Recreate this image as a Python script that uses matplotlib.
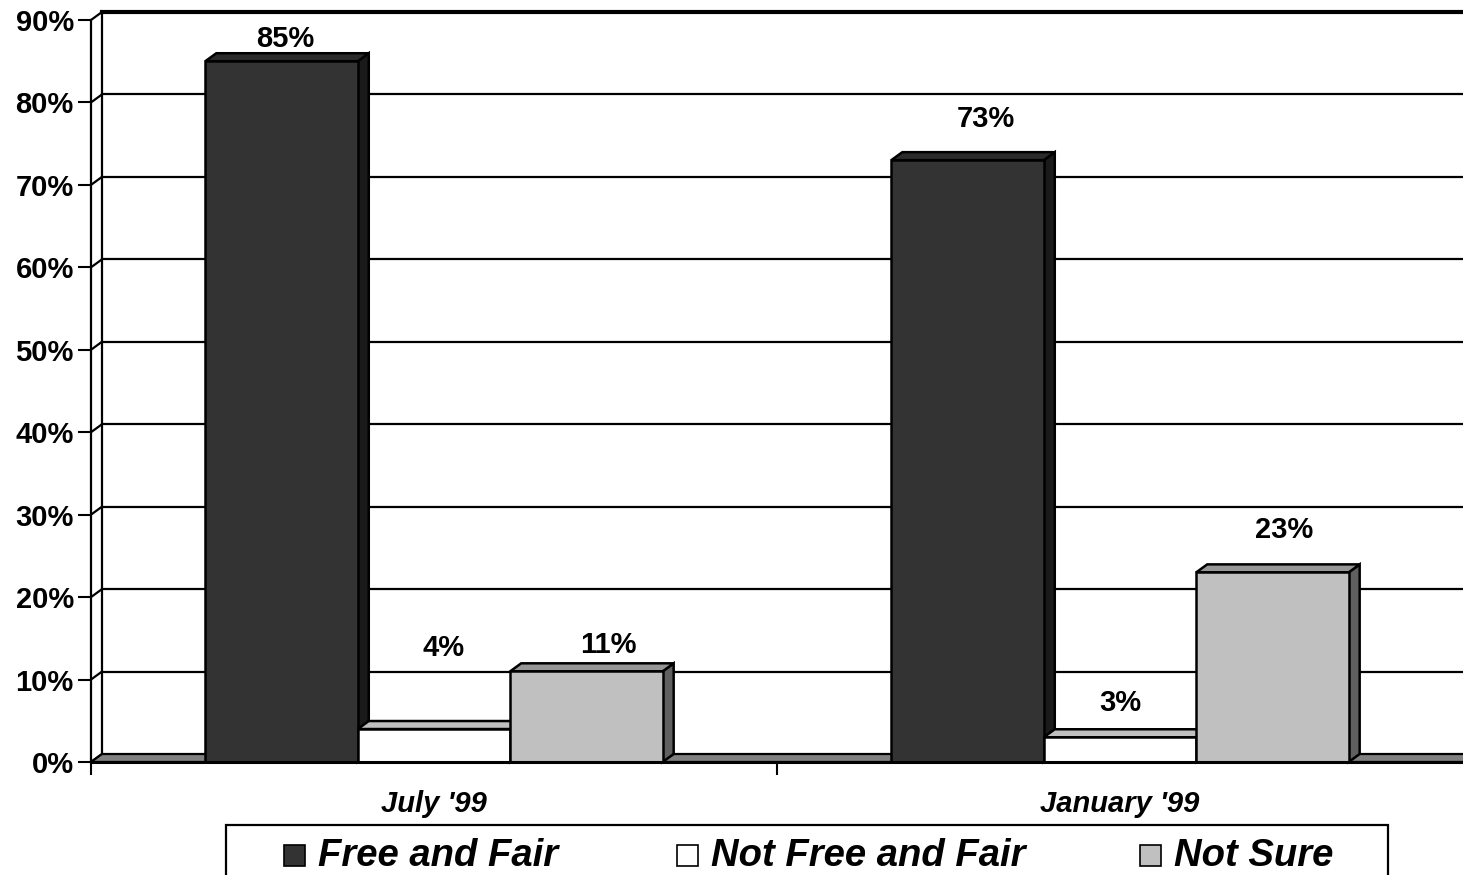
import numpy as np
import matplotlib.pyplot as plt
from matplotlib.patches import Polygon, Rectangle

categories = ["July '99", "January '99"]
series = ['Free and Fair', 'Not Free and Fair', 'Not Sure']
free_fair = [85, 73]
not_free_fair = [4, 3]
not_sure = [11, 23]
values = [free_fair, not_free_fair, not_sure]

# label offsets from bar top centre, in pixels (Excel put them all over the place)
label_offsets = [[(4, 22), (18, 41)], [(10, 81), (0, 34)], [(22, 26), (12, 42)]]

front_colors = ['#333333', '#ffffff', '#c0c0c0']
top_colors = ['#2b2b2b', '#c0c0c0', '#969696']
side_colors = ['#1a1a1a', '#808080', '#606060']

W, H = 1463, 875
plt.rcParams['font.family'] = ['Liberation Sans', 'DejaVu Sans']
plt.rcParams['font.weight'] = 'bold'

fig = plt.figure(figsize=(W / 100, H / 100), dpi=100)
x0, x1, y0, y1 = 91, 1463, 762, 20
ax = fig.add_axes([x0 / W, (H - y0) / H, (x1 - x0) / W, (y0 - y1) / H])
ax.set_xlim(0, 2)
ax.set_ylim(0, 90)
px_x = 2 / (x1 - x0)
px_y = 90 / (y0 - y1)
ddx, ddy = 11 * px_x, 8 * px_y

# back wall gridlines
for v in range(10, 91, 10):
    lw = 3 if v == 90 else 1.6
    ax.plot([ddx, 2.1], [v + ddy, v + ddy], color='k', lw=lw, clip_on=False, zorder=1)
# left wall
for v in range(0, 91, 10):
    ax.plot([0, ddx], [v, v + ddy], color='k', lw=1.6, clip_on=False, zorder=1)
ax.plot([ddx, ddx], [ddy, 90 + ddy], color='k', lw=1.6, clip_on=False, zorder=1)

# floor
floor = Polygon([(0, 0), (2.1, 0), (2.1, ddy), (ddx, ddy)], closed=True,
                facecolor='#808080', edgecolor='k', lw=1.6, clip_on=False, zorder=2)
ax.add_patch(floor)

# 3d bars
w = 2 / 9
z = 3
for i in range(len(categories)):
    for j in range(len(series)):
        v = values[j][i]
        l = i + 1 / 6 + j * w
        side = Polygon([(l + w, 0), (l + w + ddx, ddy), (l + w + ddx, v + ddy), (l + w, v)],
                       closed=True, facecolor=side_colors[j], edgecolor='k', lw=1.8,
                       clip_on=False, zorder=z)
        top = Polygon([(l, v), (l + w, v), (l + w + ddx, v + ddy), (l + ddx, v + ddy)],
                      closed=True, facecolor=top_colors[j], edgecolor='k', lw=1.8,
                      clip_on=False, zorder=z)
        ax.add_patch(side)
        ax.add_patch(top)
        ax.bar(l, v, w, align='edge', color=front_colors[j], edgecolor='k', lw=1.8,
               clip_on=False, zorder=z + 0.05)
        ox, oy = label_offsets[j][i]
        ax.annotate(f'{v}%', (l + w / 2, v), xytext=(ox * 0.72, oy * 0.72),
                    textcoords='offset points', ha='center', va='center',
                    fontsize=21, fontweight='bold', zorder=20)
        z += 0.1

for s in ['top', 'right', 'bottom']:
    ax.spines[s].set_visible(False)
ax.spines['left'].set_linewidth(1.6)
ax.spines['left'].set_zorder(2.5)
ax.plot([0, 2.1], [0, 0], color='k', lw=2.2, clip_on=False, zorder=10)

ax.set_yticks(range(0, 91, 10), labels=[f'{v}%' for v in range(0, 91, 10)])
ax.tick_params(axis='y', direction='out', length=9.4, width=1.5, pad=3, labelsize=21)
ax.set_xticks([0, 1], labels=['', ''])
ax.tick_params(axis='x', which='major', direction='out', length=9.4, width=1.5)
ax.set_xticks([0.5, 1.5], labels=categories, minor=True)
ax.tick_params(axis='x', which='minor', length=0, pad=20, labelsize=21)
for lbl in ax.get_xticklabels(minor=True):
    lbl.set_style('italic')
    lbl.set_fontweight('bold')

# legend, drawn by hand in pixel positions
box = Rectangle((226 / W, -0.02), (1388 - 226) / W, (H - 825) / H + 0.02,
                transform=fig.transFigure, fill=False, edgecolor='k', lw=1.6)
fig.add_artist(box)
marker_x = [284, 677, 1140]
for j, name in enumerate(series):
    mk = Rectangle((marker_x[j] / W, (H - 866) / H), 21 / W, 21 / H,
                   transform=fig.transFigure, facecolor=front_colors[j],
                   edgecolor='k', lw=1.2)
    fig.add_artist(mk)
    fig.text((marker_x[j] + 34) / W, (H - 866) / H, name, fontsize=27.5,
             fontweight='bold', style='italic', va='baseline', ha='left')

fig.savefig('out.png', dpi=100)
